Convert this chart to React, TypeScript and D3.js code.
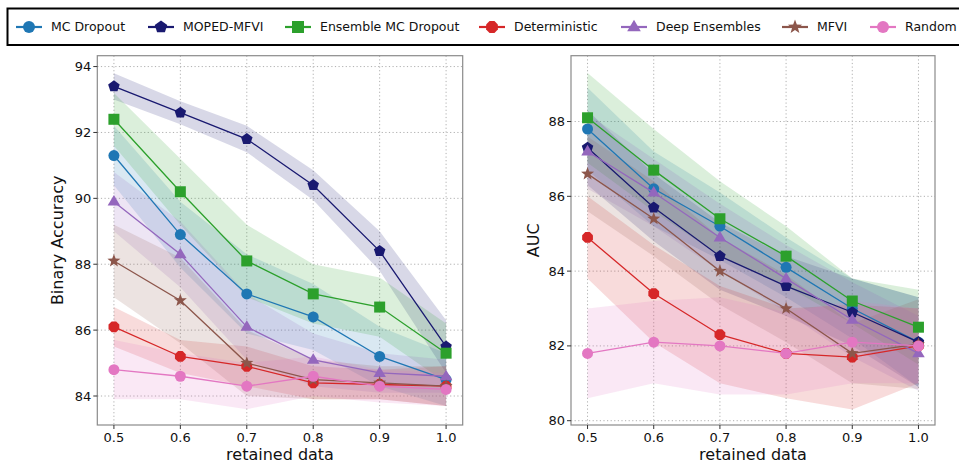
import React from "react";
import * as d3 from "d3";

const retained = [0.5, 0.6, 0.7, 0.8, 0.9, 1.0];
const seriesNames = ["MC Dropout", "MOPED-MFVI", "Ensemble MC Dropout", "Deterministic", "Deep Ensembles", "MFVI", "Random"];
const seriesColors = ["#1f77b4", "#191970", "#2ca02c", "#d62728", "#9467bd", "#8c564b", "#e377c2"];
const seriesMarkers = ["circle", "pentagon", "square", "octagon", "triangle", "star", "circle"];

// Binary accuracy means
const accMC = [91.3, 88.9, 87.1, 86.4, 85.2, 84.5];
const accMOPED = [93.4, 92.6, 91.8, 90.4, 88.4, 85.5];
const accEns = [92.4, 90.2, 88.1, 87.1, 86.7, 85.3];
const accDet = [86.1, 85.2, 84.9, 84.4, 84.35, 84.3];
const accDeep = [89.9, 88.3, 86.1, 85.1, 84.7, 84.6];
const accMFVI = [88.1, 86.9, 85.0, 84.5, 84.4, 84.3];
const accRand = [84.8, 84.6, 84.3, 84.6, 84.3, 84.2];
// Binary accuracy spread (band half-width)
const accMCSd = [0.9, 1.0, 1.2, 1.0, 0.9, 0.8];
const accMOPEDSd = [0.4, 0.35, 0.4, 0.45, 0.6, 0.8];
const accEnsSd = [0.8, 1.0, 1.1, 0.9, 0.9, 0.9];
const accDetSd = [0.6, 0.5, 0.6, 0.5, 0.45, 0.6];
const accDeepSd = [0.9, 1.0, 1.0, 0.8, 0.6, 0.5];
const accMFVISd = [1.1, 1.3, 1.0, 0.6, 0.5, 0.6];
const accRandSd = [0.9, 0.7, 0.7, 0.6, 0.5, 0.5];

// AUC means
const aucMC = [87.8, 86.2, 85.2, 84.1, 83.0, 82.1];
const aucMOPED = [87.3, 85.7, 84.4, 83.6, 82.9, 82.1];
const aucEns = [88.1, 86.7, 85.4, 84.4, 83.2, 82.5];
const aucDet = [84.9, 83.4, 82.3, 81.8, 81.7, 82.0];
const aucDeep = [87.2, 86.1, 84.9, 83.8, 82.7, 81.8];
const aucMFVI = [86.6, 85.4, 84.0, 83.0, 81.8, 82.05];
const aucRand = [81.8, 82.1, 82.0, 81.8, 82.1, 82.0];
// AUC spread
const aucMCSd = [1.1, 1.0, 0.9, 0.8, 0.8, 1.2];
const aucMOPEDSd = [1.0, 0.9, 0.9, 0.8, 0.9, 1.2];
const aucEnsSd = [1.2, 1.1, 1.0, 0.8, 0.6, 1.0];
const aucDetSd = [1.1, 1.3, 1.3, 1.2, 1.4, 1.0];
const aucDeepSd = [1.0, 0.9, 0.9, 0.9, 1.0, 1.0];
const aucMFVISd = [1.0, 1.0, 0.9, 0.9, 0.8, 1.2];
const aucRandSd = [1.2, 1.1, 1.3, 1.1, 1.1, 1.0];

const accTicks = [84, 86, 88, 90, 92, 94];
const aucTicks = [80, 82, 84, 86, 88];
const xTicks = [0.5, 0.6, 0.7, 0.8, 0.9, 1.0];

const accMeans = [accMC, accMOPED, accEns, accDet, accDeep, accMFVI, accRand];
const accSds = [accMCSd, accMOPEDSd, accEnsSd, accDetSd, accDeepSd, accMFVISd, accRandSd];
const aucMeans = [aucMC, aucMOPED, aucEns, aucDet, aucDeep, aucMFVI, aucRand];
const aucSds = [aucMCSd, aucMOPEDSd, aucEnsSd, aucDetSd, aucDeepSd, aucMFVISd, aucRandSd];

const FONT = "DejaVu Sans, sans-serif";

function polygon(n: number, r: number, rot: number): string {
  const pts: string[] = [];
  for (let i = 0; i < n; i++) {
    const a = rot + (i * 2 * Math.PI) / n;
    pts.push(`${(r * Math.sin(a)).toFixed(2)},${(-r * Math.cos(a)).toFixed(2)}`);
  }
  return "M" + pts.join("L") + "Z";
}
function starPath(r: number): string {
  const pts: string[] = [];
  const inner = r * 0.42;
  for (let i = 0; i < 10; i++) {
    const a = (i * Math.PI) / 5;
    const rr = i % 2 === 0 ? r : inner;
    pts.push(`${(rr * Math.sin(a)).toFixed(2)},${(-rr * Math.cos(a)).toFixed(2)}`);
  }
  return "M" + pts.join("L") + "Z";
}
function markerPath(kind: string, s: number): string {
  switch (kind) {
    case "circle":
      return d3.symbol().type(d3.symbolCircle).size(Math.PI * (s / 2) * (s / 2))() as string;
    case "square":
      return d3.symbol().type(d3.symbolSquare).size(s * s)() as string;
    case "pentagon":
      return polygon(5, s * 0.55, 0);
    case "octagon":
      return polygon(8, s * 0.53, Math.PI / 8);
    case "triangle": {
      const r = s * 0.6;
      return `M0,${-r}L${r * 0.95},${r * 0.6}L${-r * 0.95},${r * 0.6}Z`;
    }
    case "star":
      return starPath(s * 0.62);
  }
  return "";
}

type PanelProps = {
  x0: number; x1: number; y0: number; y1: number;
  yDomain: [number, number]; yTicks: number[]; yLabel: string; yLabelX: number;
  means: number[][]; sds: number[][];
};

function Panel(p: PanelProps) {
  const xs = d3.scaleLinear().domain([0.475, 1.025]).range([p.x0, p.x1]);
  const ys = d3.scaleLinear().domain(p.yDomain).range([p.y1, p.y0]);
  const area = d3.area<number>()
    .x((_, i) => xs(retained[i]));
  const line = d3.line<number>().x((_, i) => xs(retained[i])).y((v) => ys(v));
  return (
    <g>
      {xTicks.map((t) => (
        <line key={"gx" + t} x1={xs(t)} x2={xs(t)} y1={p.y0} y2={p.y1} stroke="#b0b0b0" strokeWidth={1} strokeDasharray="1.2,2.4" />
      ))}
      {p.yTicks.map((t) => (
        <line key={"gy" + t} x1={p.x0} x2={p.x1} y1={ys(t)} y2={ys(t)} stroke="#b0b0b0" strokeWidth={1} strokeDasharray="1.2,2.4" />
      ))}
      {p.means.map((m, si) => {
        const sd = p.sds[si];
        const a = area.y0((v, i) => ys(v - sd[i])).y1((v, i) => ys(v + sd[i]));
        return <path key={"b" + si} d={a(m) as string} fill={seriesColors[si]} fillOpacity={0.17} stroke="none" />;
      })}
      {p.means.map((m, si) => (
        <g key={"s" + si}>
          <path d={line(m) as string} fill="none" stroke={seriesColors[si]} strokeWidth={1.3} />
          {m.map((v, i) => (
            <path key={i} d={markerPath(seriesMarkers[si], 11)} transform={`translate(${xs(retained[i])},${ys(v)})`} fill={seriesColors[si]} />
          ))}
        </g>
      ))}
      <rect x={p.x0} y={p.y0} width={p.x1 - p.x0} height={p.y1 - p.y0} fill="none" stroke="#8a8a8a" strokeWidth={1.2} />
      {xTicks.map((t) => (
        <g key={"tx" + t}>
          <line x1={xs(t)} x2={xs(t)} y1={p.y1} y2={p.y1 + 4} stroke="#333" strokeWidth={1} />
          <text x={xs(t)} y={441.5} textAnchor="middle" fontFamily={FONT} fontSize={13} fill="#111">{t.toFixed(1)}</text>
        </g>
      ))}
      {p.yTicks.map((t) => (
        <g key={"ty" + t}>
          <line x1={p.x0 - 4} x2={p.x0} y1={ys(t)} y2={ys(t)} stroke="#333" strokeWidth={1} />
          <text x={p.x0 - 6} y={ys(t)} dy="0.35em" textAnchor="end" fontFamily={FONT} fontSize={13} fill="#111">{t}</text>
        </g>
      ))}
      <text x={(p.x0 + p.x1) / 2} y={460} textAnchor="middle" fontFamily={FONT} fontSize={16} fill="#111">retained data</text>
      <text transform={`translate(${p.yLabelX},${(p.y0 + p.y1) / 2}) rotate(-90)`} textAnchor="middle" dy="0.35em" fontFamily={FONT} fontSize={16} fill="#111">{p.yLabel}</text>
    </g>
  );
}

const legendMarkerX = [29, 161, 298, 492, 634, 795, 883];

export default function App() {
  return (
    <svg width={959} height={465} style={{ position: "absolute", left: 0, top: 0, background: "#fff" }}>
      <rect x={0} y={0} width={959} height={465} fill="#fff" />
      <Panel x0={97.3} x1={462.7} y0={55.7} y1={425} yDomain={[83.12, 94.33]} yTicks={accTicks} yLabel="Binary Accuracy" yLabelX={57} means={accMeans} sds={accSds} />
      <Panel x0={571} x1={935} y0={55.7} y1={425} yDomain={[79.885, 89.76]} yTicks={aucTicks} yLabel="AUC" yLabelX={533} means={aucMeans} sds={aucSds} />
      <rect x={7.5} y={8.5} width={1000} height={36.5} fill="#fff" stroke="#000" strokeWidth={2} />
      {seriesNames.map((n, i) => {
        const cx = legendMarkerX[i];
        return (
          <g key={n}>
            <line x1={cx - 13} x2={cx + 13} y1={27} y2={27} stroke={seriesColors[i]} strokeWidth={2.2} />
            <path d={markerPath(seriesMarkers[i], 12)} transform={`translate(${cx},27)`} fill={seriesColors[i]} />
            <text x={cx + 22} y={27} dy="0.35em" fontFamily={FONT} fontSize={12.5} fill="#111">{n}</text>
          </g>
        );
      })}
    </svg>
  );
}
